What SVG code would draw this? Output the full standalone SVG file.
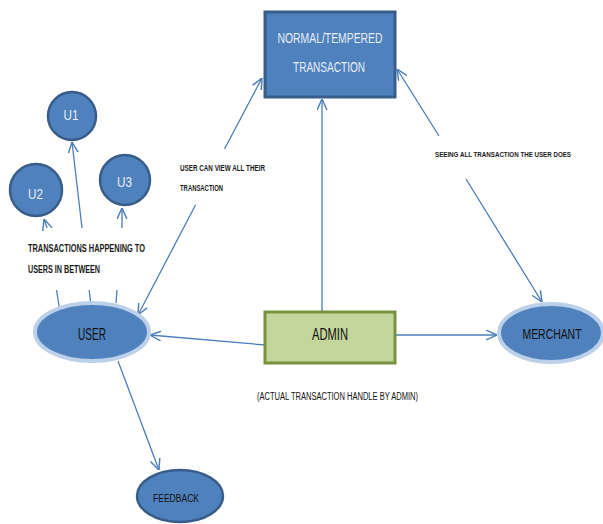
<svg xmlns="http://www.w3.org/2000/svg" width="603" height="524" viewBox="0 0 603 524">
<style>
text{font-family:"Liberation Sans",Arial,sans-serif;fill:#111;}
.c{text-anchor:middle;}
.b{font-weight:bold;fill:#1a1a1a;}
.circ{fill:#4f81bd;stroke:#385d8a;stroke-width:2.5;}
.ell{fill:#4f81bd;stroke:#bcd0ea;stroke-width:4;}
.ln{fill:none;stroke:#4a7ebb;stroke-width:1.3;}
.wt{fill:#e6edf7;}
</style>
<defs>
<marker id="arr" viewBox="0 0 10 10" refX="10" refY="5" markerWidth="11" markerHeight="11" markerUnits="userSpaceOnUse" orient="auto-start-reverse">
<path d="M0,0.5 L10,5 L0,9.5" fill="none" stroke="#4a7ebb" stroke-width="1.3"/>
</marker>
</defs>
<rect width="603" height="524" fill="#fff"/>

<g id="connectors">
<path class="ln" d="M90.6,302 L89.2,290 M82,228 L72,142" marker-end="url(#arr)"/>
<path class="ln" d="M116,303 L117,290 M122,228 L122,208" marker-end="url(#arr)"/>
<path class="ln" d="M60,312 L56.5,290 M47,228 L44,219" marker-end="url(#arr)"/>
<path class="ln" d="M262,78 L224.5,149 M195.5,205 L138,315" marker-start="url(#arr)" marker-end="url(#arr)"/>
<path class="ln" d="M322,311 L322,99" marker-end="url(#arr)"/>
<path class="ln" d="M397,69 L439,136 M466,179 L542,302" marker-start="url(#arr)" marker-end="url(#arr)"/>
<path class="ln" d="M265,345 L150,335" marker-end="url(#arr)"/>
<path class="ln" d="M395,335 L497,335" marker-end="url(#arr)"/>
<path class="ln" d="M118,361 L159,470" marker-end="url(#arr)"/>
</g>

<g id="normal-transaction">
<rect x="265" y="12" width="130" height="85" fill="#4f81bd" stroke="#385d8a" stroke-width="3"/>
<text class="c wt" x="330" y="43" font-size="15" textLength="105" lengthAdjust="spacingAndGlyphs">NORMAL/TEMPERED</text>
<text class="c wt" x="329" y="72" font-size="15" textLength="72" lengthAdjust="spacingAndGlyphs">TRANSACTION</text>
</g>

<g id="u1">
<circle class="circ" cx="72" cy="116" r="24"/>
<text class="c wt" x="71" y="120" font-size="15" textLength="15" lengthAdjust="spacingAndGlyphs">U1</text>
</g>
<g id="u2">
<circle class="circ" cx="36" cy="190" r="26"/>
<text class="c wt" x="35.5" y="199" font-size="15" textLength="15" lengthAdjust="spacingAndGlyphs">U2</text>
</g>
<g id="u3">
<circle class="circ" cx="125" cy="180" r="25"/>
<text class="c wt" x="124.5" y="187" font-size="15" textLength="15" lengthAdjust="spacingAndGlyphs">U3</text>
</g>

<g id="label-users-between">
<text class="b" x="28" y="252" font-size="11" textLength="117" lengthAdjust="spacingAndGlyphs">TRANSACTIONS HAPPENING TO</text>
<text class="b" x="28" y="273" font-size="11" textLength="72" lengthAdjust="spacingAndGlyphs">USERS IN BETWEEN</text>
</g>

<g id="label-user-view">
<text class="b" x="180" y="171" font-size="8.5" textLength="85" lengthAdjust="spacingAndGlyphs">USER CAN VIEW ALL THEIR</text>
<text class="b" x="180" y="191" font-size="8.5" textLength="43" lengthAdjust="spacingAndGlyphs">TRANSACTION</text>
</g>

<g id="label-seeing">
<text class="b" x="435" y="157" font-size="7.5" textLength="136" lengthAdjust="spacingAndGlyphs">SEEING  ALL TRANSACTION  THE USER DOES</text>
</g>

<g id="user">
<ellipse class="ell" cx="92" cy="332" rx="57" ry="29"/>
<text class="c" x="92" y="340" font-size="17" textLength="28" lengthAdjust="spacingAndGlyphs">USER</text>
</g>

<g id="admin">
<rect x="265" y="312" width="130" height="51" fill="#c3d69b" stroke="#77933c" stroke-width="3"/>
<text class="c" x="330" y="340" font-size="17" textLength="36" lengthAdjust="spacingAndGlyphs">ADMIN</text>
</g>

<g id="label-admin">
<text x="257" y="400" font-size="10" textLength="161" lengthAdjust="spacingAndGlyphs">(ACTUAL TRANSACTION HANDLE BY ADMIN)</text>
</g>

<g id="merchant">
<ellipse class="ell" cx="551" cy="333" rx="52" ry="29"/>
<text class="c" x="552" y="339" font-size="14" textLength="59" lengthAdjust="spacingAndGlyphs">MERCHANT</text>
</g>

<g id="feedback">
<ellipse class="circ" cx="180" cy="496" rx="43" ry="26"/>
<text class="c" x="176" y="502" font-size="10" textLength="46" lengthAdjust="spacingAndGlyphs">FEEDBACK</text>
</g>
</svg>
